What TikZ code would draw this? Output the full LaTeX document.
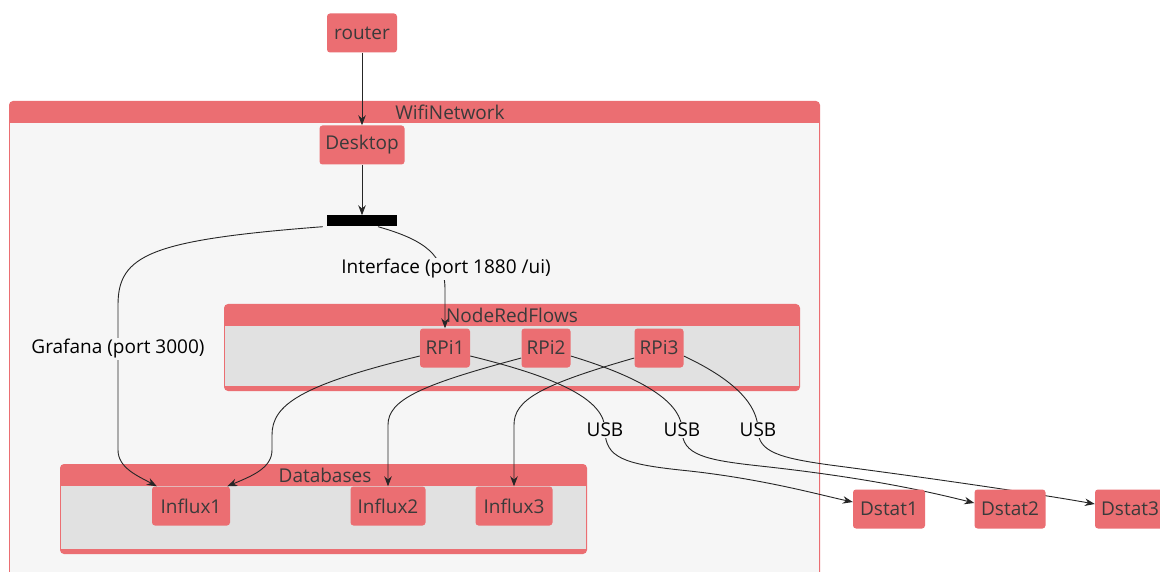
\documentclass[tikz,border=0pt]{standalone}
\usepackage{fontspec}
\setmainfont{Open Sans}
\usetikzlibrary{arrows.meta}
\definecolor{nred}{HTML}{EB6E72}
\definecolor{ntext}{HTML}{3A3A3A}
\definecolor{wifibg}{HTML}{F6F6F6}
\definecolor{clbg}{HTML}{E1E1E1}
\pgfdeclarelayer{clus}
\pgfdeclarelayer{edg}
\pgfsetlayers{clus,edg,main}
\begin{document}
\begin{tikzpicture}[x=1pt,y=-1pt,
  box/.style={fill=nred, rounded corners=3pt, text=ntext, font=\fontsize{19}{22}\selectfont, inner sep=0pt, minimum height=39pt},
  lbl/.style={fill=wifibg, text=black, font=\fontsize{19}{22}\selectfont, inner sep=1pt},
  ctitle/.style={text=ntext, font=\fontsize{19}{22}\selectfont, inner sep=0pt},
  conn/.style={draw=black!85, line width=0.9pt},
  arr/.style={conn, -{Stealth[length=10pt,width=7.5pt]}}]
\useasboundingbox (0,0) rectangle (1160,572);

% clusters
\begin{pgfonlayer}{clus}
  \fill[white] (0,0) rectangle (1160,572);
  % WifiNetwork
  \fill[nred, rounded corners=4pt] (9,101) rectangle (820,580);
  \fill[wifibg] (10,123) rectangle (819,580);
  \node[ctitle] (wifit) at (450,112) {WifiNetwork};
  % NodeRedFlows
  \fill[nred, rounded corners=4pt] (224,304) rectangle (800,391);
  \fill[clbg] (225,326) rectangle (799,386);
  \node[ctitle] (nrft) at (512,315) {NodeRedFlows};
  % Databases
  \fill[nred, rounded corners=4pt] (60,464) rectangle (587,554);
  \fill[clbg] (61,486) rectangle (586,549);
  \node[ctitle] (dbt) at (325,475) {Databases};
\end{pgfonlayer}

% nodes
\node[box, minimum width=70pt] (router) at (362,33) {router};
\node[box, minimum width=85pt] (desktop) at (362,145) {Desktop};
\node[fill=black, minimum width=70pt, minimum height=11pt, inner sep=0pt] (bar) at (362,221) {};
\node[box, minimum width=50pt] (rpi1) at (445,348) {RPi1};
\node[box, minimum width=49pt] (rpi2) at (546,348) {RPi2};
\node[box, minimum width=49pt] (rpi3) at (659,348) {RPi3};
\node[box, minimum width=78pt] (influx1) at (191,506) {Influx1};
\node[box, minimum width=75pt] (influx2) at (388,506) {Influx2};
\node[box, minimum width=77pt] (influx3) at (514,506) {Influx3};
\node[box, minimum width=72pt] (dstat1) at (889,509) {Dstat1};
\node[box, minimum width=71pt] (dstat2) at (1010,509) {Dstat2};
\node[box, minimum width=70pt] (dstat3) at (1130,509) {Dstat3};

% labels
\node[lbl] (lint) at (446,269) {Interface (port 1880 /ui)};
\node[lbl] (lgraf) at (118,349) {Grafana (port 3000)};
\node[lbl] (usb1) at (605,430) {USB};
\node[lbl] (usb2) at (682,430) {USB};
\node[lbl] (usb3) at (758,430) {USB};

% edges
\begin{pgfonlayer}{edg}
  \draw[arr] (router.south) -- (desktop.north);
  \draw[arr] (desktop.south) -- (bar.north);
  \draw[arr] ([xshift=-4pt]bar.south west) .. controls (150,240) and (118,255) .. (118,305)
      -- (118,450) .. controls (118,468) and (138,476) .. ([xshift=5pt]influx1.north west);
  \draw[arr] ([xshift=16pt]bar.south) .. controls (425,240) and (445,255) .. (445,290) -- (rpi1.north);
  \draw[arr] ([yshift=-8pt]rpi1.west) .. controls (300,385) and (272,405) .. (272,435)
      -- (272,450) .. controls (272,468) and (252,476) .. ([xshift=-3pt]influx1.north east);
  \draw[arr] ([yshift=-10pt]rpi2.west) .. controls (420,385) and (388,400) .. (388,425) -- (influx2.north);
  \draw[arr] ([yshift=-10pt]rpi3.west) .. controls (540,385) and (514,400) .. (514,425) -- (influx3.north);
  \draw[arr] ([yshift=-8pt]rpi1.east) .. controls (560,378) and (605,400) .. (usb1.center)
      .. controls (605,458) and (625,464) .. (680,470) .. controls (760,478) and (820,495) .. ([yshift=7pt]dstat1.west);
  \draw[arr] ([yshift=-8pt]rpi2.east) .. controls (650,380) and (682,405) .. (usb2.center)
      .. controls (682,455) and (705,460) .. (760,466) .. controls (870,478) and (930,492) .. ([yshift=6pt]dstat2.west);
  \draw[arr] ([yshift=-8pt]rpi3.east) .. controls (735,380) and (758,405) .. (usb3.center)
      .. controls (758,452) and (780,458) .. (830,465) .. controls (960,482) and (1050,496) .. ([yshift=5pt]dstat3.west);
\end{pgfonlayer}
\end{tikzpicture}
\end{document}
